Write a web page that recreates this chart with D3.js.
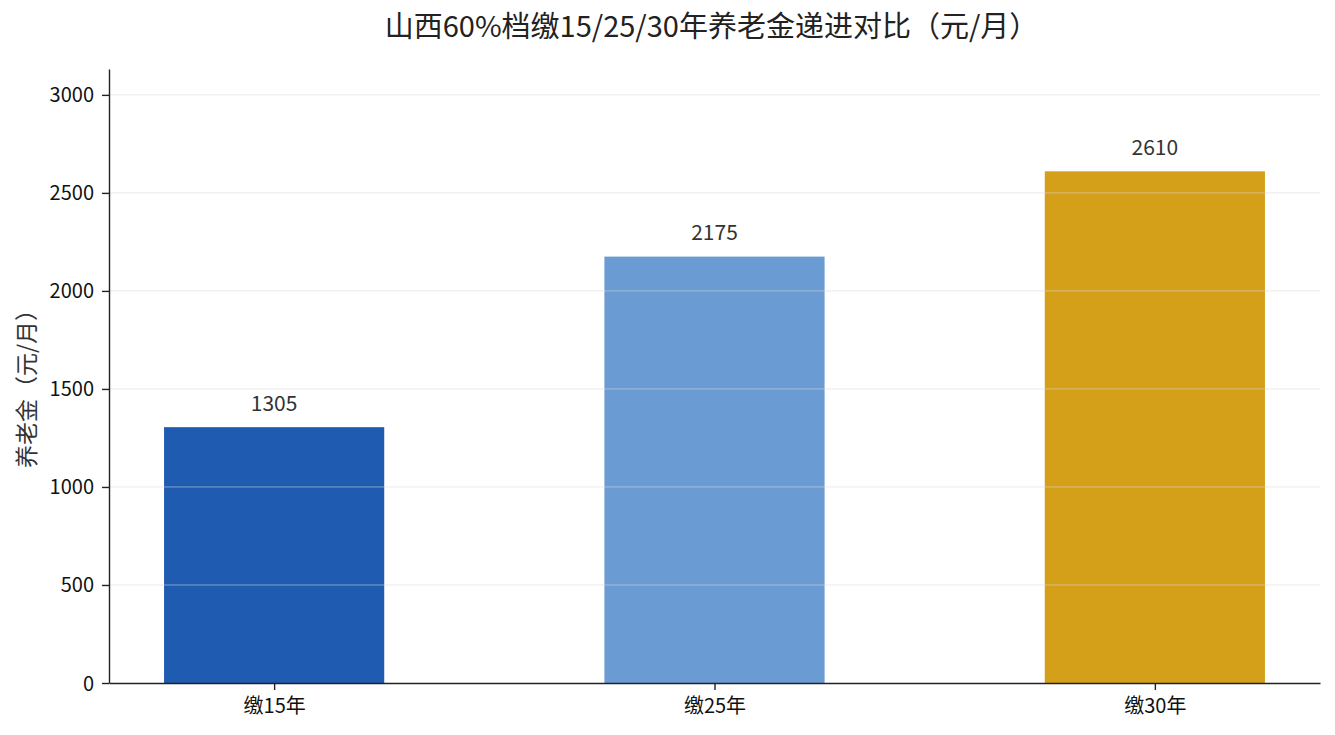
<!DOCTYPE html>
<html><head><meta charset="utf-8">
<script src="https://cdn.jsdelivr.net/npm/d3@7/dist/d3.min.js"></script>
<style>
body{margin:0;background:#fff;}
text{font-family:"Noto Sans CJK SC","Noto Sans",sans-serif;}
</style></head>
<body><svg id="c" width="1335" height="735"></svg>
<script>
const categories = ["缴15年","缴25年","缴30年"];
const values = [1305, 2175, 2610];
const colors = ["#1f5bb0","#6b9bd3","#d4a01a"];
const yTicks = [0,500,1000,1500,2000,2500,3000];
const title = "山西60%档缴15/25/30年养老金递进对比（元/月）";
const yLabel = "养老金（元/月）";

const svg = d3.select("#c");
const L=109, R=1320, T=69, B=683;
const x = d3.scaleLinear().domain([-0.375, categories.length-1+0.375]).range([L,R]);
const y = d3.scaleLinear().domain([0, d3.max(values)*1.2]).range([B,T]);
const bw = x(0.5)-x(0);

svg.append("g").selectAll("rect").data(values).join("rect")
  .attr("x",(d,i)=>x(i)-bw/2).attr("width",bw)
  .attr("y",d=>y(d)).attr("height",d=>B-y(d))
  .attr("fill",(d,i)=>colors[i]);

// grid above bars
svg.append("g").selectAll("line").data(yTicks.filter(t=>t>0)).join("line")
  .attr("x1",L).attr("x2",R).attr("y1",d=>y(d)).attr("y2",d=>y(d))
  .attr("stroke","#d8d8d8").attr("stroke-opacity",0.55).attr("stroke-width",1);

const yAxis = svg.append("g").attr("transform",`translate(${L},0)`)
  .call(d3.axisLeft(y).tickValues(yTicks).tickFormat(d3.format("d")).tickSize(7).tickPadding(8).tickSizeOuter(0));
const xAxis = svg.append("g").attr("transform",`translate(0,${B})`)
  .call(d3.axisBottom(x).tickValues(d3.range(categories.length)).tickFormat(i=>categories[i]).tickSize(7).tickPadding(5).tickSizeOuter(0));
[yAxis,xAxis].forEach(a=>{
  a.selectAll("path").attr("stroke","#222").attr("stroke-width",1.4);
  a.selectAll("line").attr("stroke","#222").attr("stroke-width",1.4);
  a.selectAll("text").attr("fill","#111").style("font-size","20px");
});
yAxis.selectAll("text").attr("dy","0.35em");
xAxis.selectAll("text").attr("dy","0.9em");

svg.append("g").selectAll("text").data(values).join("text")
  .attr("x",(d,i)=>x(i)).attr("y",d=>y(d)-24).attr("dy","0.35em")
  .attr("text-anchor","middle").attr("fill","#333").style("font-size","21px")
  .text(d=>d);

svg.append("text").attr("x",(L+R)/2 - 3).attr("y",27).attr("dy","0.35em")
  .attr("text-anchor","middle").attr("fill","#222").style("font-size","29px")
  .text(title);

svg.append("text").attr("transform",`translate(27,${(T+B)/2 + 7}) rotate(-90)`)
  .attr("dy","0.35em").attr("text-anchor","middle").attr("fill","#333").style("font-size","23px")
  .text(yLabel);
</script></body></html>
